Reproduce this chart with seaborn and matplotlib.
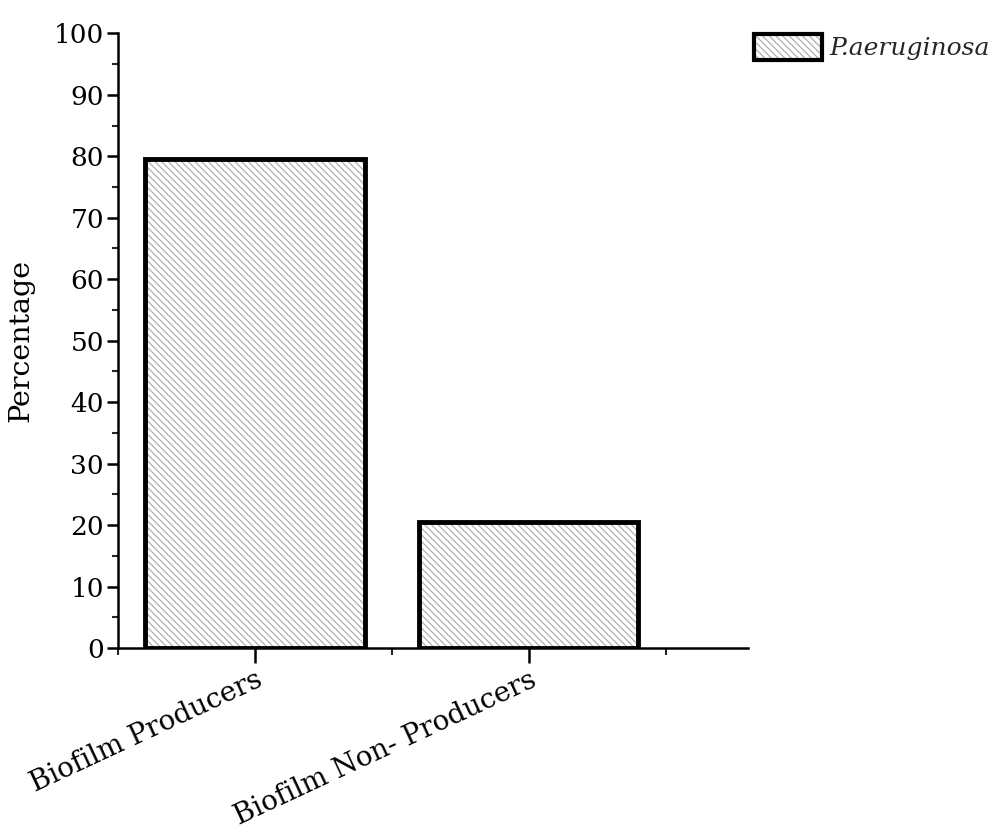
import matplotlib
matplotlib.use("Agg")
import matplotlib.pyplot as plt
import seaborn as sns
import pandas as pd
from matplotlib.patches import Rectangle, Patch
from matplotlib.legend_handler import HandlerTuple
from matplotlib.ticker import MultipleLocator, FixedLocator

categories = ["Biofilm Producers", "Biofilm Non- Producers"]
values = [79.5, 20.5]
series_name = "P.aeruginosa"
yticks = [0, 10, 20, 30, 40, 50, 60, 70, 80, 90, 100]

sns.set_theme(style="ticks")
plt.rcParams['font.family'] = ['DejaVu Serif', 'DejaVu Sans']
plt.rcParams['hatch.linewidth'] = 0.9

HATCH = "\\" * 5
HCOL = "#b0b0b0"

fig = plt.figure(figsize=(10, 8.35), dpi=100)
ax = fig.add_axes([0.118, 0.224, 0.63, 0.736])

df = pd.DataFrame({"cat": categories, "val": values})
sns.barplot(data=df, x="cat", y="val", ax=ax, color="white", edgecolor=HCOL,
            linewidth=0, hatch=HATCH, width=0.8, saturation=1)

for p in list(ax.patches):
    ax.add_patch(Rectangle(p.get_xy(), p.get_width(), p.get_height(),
                           fill=False, edgecolor="black", linewidth=3.5, zorder=3))

ax.set_xlim(-0.5, 1.8)
ax.set_ylim(0, 100)
ax.set_yticks(yticks)
ax.yaxis.set_minor_locator(MultipleLocator(5))
ax.xaxis.set_minor_locator(FixedLocator([-0.5, 0.5, 1.5]))

for s in ["top", "right"]:
    ax.spines[s].set_visible(False)
for s in ["left", "bottom"]:
    ax.spines[s].set_linewidth(1.8)
    ax.spines[s].set_color("black")

ax.tick_params(axis="y", which="major", length=8, width=1.8, labelsize=19, pad=2, colors="black")
ax.tick_params(axis="y", which="minor", length=4, width=1.5)
ax.tick_params(axis="x", which="major", length=11, width=1.8, labelsize=20, pad=2, colors="black")
ax.tick_params(axis="x", which="minor", length=5, width=1.5)

ax.set_xticks(range(len(categories)))
ax.set_xticklabels(categories, rotation=25, ha="right", rotation_mode="anchor")
ax.set_xlabel("")
ax.set_ylabel("Percentage", fontsize=20.5, color="black")
ax.yaxis.set_label_coords(-0.133, 0.5)

h1 = Patch(facecolor="white", edgecolor=HCOL, hatch=HATCH, linewidth=0)
h2 = Patch(facecolor="none", edgecolor="black", linewidth=3)
fig.legend(handles=[(h1, h2)], labels=[series_name], loc="upper left",
           bbox_to_anchor=(0.736, 0.98), frameon=False, handlelength=2.75,
           handleheight=1.2, handletextpad=0.3, borderpad=0.2,
           handler_map={tuple: HandlerTuple(ndivide=1, pad=0)},
           prop={"family": "DejaVu Serif", "style": "italic", "size": 18})

fig.savefig("out.png", dpi=100)
